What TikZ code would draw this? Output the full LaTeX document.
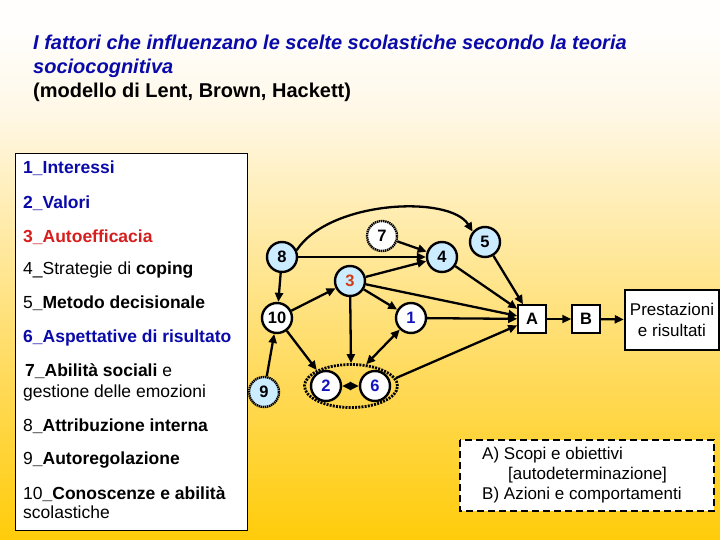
\documentclass[tikz,border=0pt]{standalone}
\usepackage{fontspec}
\setmainfont{Liberation Sans}
\usetikzlibrary{arrows.meta,shapes.geometric}
\definecolor{lblue}{RGB}{204,236,255}
\definecolor{tblue}{RGB}{10,10,170}
\definecolor{nblue}{RGB}{20,20,190}
\definecolor{tred}{RGB}{215,30,30}
\definecolor{nred}{RGB}{210,60,20}
\definecolor{bgA}{RGB}{255,204,10}
\definecolor{bgB}{RGB}{255,218,90}
\definecolor{bgC}{RGB}{255,236,175}
\definecolor{bgD}{RGB}{255,248,232}
\definecolor{bgE}{RGB}{255,254,252}
\pgfdeclareverticalshading{bgshade}{100bp}{color(0bp)=(bgA); color(25bp)=(bgA); color(40bp)=(bgB); color(55bp)=(bgC); color(65bp)=(bgD); color(72bp)=(bgE); color(100bp)=(bgE)}
\tikzset{
  circ/.style={circle, draw, line width=2.4pt, minimum size=30pt, inner sep=0pt, font=\fontsize{16.5}{18}\selectfont\bfseries},
  blu/.style={circ, fill=lblue},
  wht/.style={circ, fill=white},
  dotb/.style={dash pattern=on 1.4pt off 0.7pt},
  arr/.style={-{Triangle[length=9pt,width=8pt]}, line width=2.3pt},
  darr/.style={{Triangle[length=9pt,width=8pt]}-{Triangle[length=9pt,width=8pt]}, line width=2.3pt},
  sq/.style={draw, fill=white, line width=1.5pt, minimum size=28pt, inner sep=0pt, font=\fontsize{16.5}{18}\selectfont\bfseries},
  lt/.style={anchor=base west, inner sep=0pt, font=\fontsize{17.5}{20}\selectfont},
  gt/.style={anchor=base west, inner sep=0pt, font=\fontsize{17}{20}\selectfont}
}
\begin{document}
\begin{tikzpicture}[x=1pt,y=-1pt]
\useasboundingbox (0,0) rectangle (720,540);
\shade[shading=bgshade] (0,0) rectangle (720,540);

% title
\node[anchor=base west, inner sep=0pt, font=\fontsize{20}{24}\selectfont\bfseries\itshape, text=tblue] (ti1) at (33,50) {I fattori che influenzano le scelte scolastiche secondo la teoria};
\node[anchor=base west, inner sep=0pt, font=\fontsize{20}{24}\selectfont\bfseries\itshape, text=tblue] (ti2) at (33,74) {sociocognitiva};
\node[anchor=base west, inner sep=0pt, font=\fontsize{20}{24}\selectfont\bfseries] (ti3) at (33,98) {(modello di Lent, Brown, Hackett)};

% left list box
\draw[line width=0.8pt, fill=white] (15,153) rectangle (247,530);
\node[lt] (l1) at (23,174) {\bfseries\color{tblue}1\_Interessi};
\node[lt] (l2) at (23,208) {\bfseries\color{tblue}2\_Valori};
\node[lt] (l3) at (23,242) {\bfseries\color{tred}3\_Autoefficacia};
\node[lt] (l4) at (23,274) {4\_Strategie di \textbf{coping}};
\node[lt] (l5) at (23,308) {5\textbf{\_Metodo decisionale}};
\node[lt] (l6) at (23,342) {\bfseries\color{tblue}6\_Aspettative di risultato};
\node[lt] (l7) at (25,376) {\textbf{7\_Abilità sociali} e};
\node[lt] (l7b) at (23,397) {gestione delle emozioni};
\node[lt] (l8) at (23,431) {8\textbf{\_Attribuzione interna}};
\node[lt] (l9) at (23,464) {9\textbf{\_Autoregolazione}};
\node[lt] (l10) at (23,499) {10\textbf{\_Conoscenze e abilità}};
\node[lt] (l10b) at (23,518) {scolastiche};

% legend box
\draw[line width=2.5pt, dash pattern=on 7pt off 4pt, fill=white] (460,440) rectangle (714,511);
\node[gt] (la) at (482,459) {A) Scopi e obiettivi};
\node[gt] (lad) at (508,479) {[autodeterminazione]};
\node[gt] (lb) at (482,499) {B) Azioni e comportamenti};

% nodes
\node[ellipse, draw, line width=2.8pt, dash pattern=on 2pt off 1.2pt, minimum width=93pt, minimum height=43pt, inner sep=0pt] (ell) at (351,386) {};
\node[blu] (n8) at (282,257) {8};
\node[wht, dotb] (n7) at (382,236) {7};
\node[blu] (n4) at (442,257) {4};
\node[blu] (n5) at (485,242) {5};
\node[blu, text=nred] (n3) at (350,281) {3};
\node[wht] (n10) at (277,318) {10};
\node[wht, text=nblue] (n1) at (411,318) {1};
\node[blu, dotb] (n9) at (264,392) {9};
\node[wht, text=nblue] (n2) at (326,386) {2};
\node[wht, text=nblue] (n6) at (375,386) {6};
\node[sq] (A) at (532,319) {A};
\node[sq] (B) at (586,319) {B};
\node[draw, fill=white, line width=2.5pt, minimum width=94pt, minimum height=60pt, inner sep=0pt, align=center, font=\fontsize{17}{21}\selectfont] (P) at (672,320) {Prestazioni\\e risultati};

% connectors
\draw[arr] (n8.25) .. controls (330,200) and (450,195) .. (n5.140);
\draw[arr] (n8) -- (n4);
\draw[arr] (n7) -- (n4);
\draw[arr] (n3) -- (n4);
\draw[arr] (n8) -- (n10);
\draw[arr] (n10) -- (n3);
\draw[arr] (n9) -- (n10);
\draw[arr] (n3) -- (n1);
\draw[arr] (n3) -- (ell.north);
\draw[arr] (n10) -- (ell.155);
\draw[darr] (ell.55) -- (n1);
\draw[darr] (n2) -- (n6);
\draw[arr] (n3) -- (A);
\draw[arr] (n4) -- (A);
\draw[arr] (n5) -- (A);
\draw[arr] (n1) -- (A);
\draw[arr] (ell.10) -- (A);
\draw[arr] (A) -- (B);
\draw[arr] (B) -- (P);
\end{tikzpicture}
\end{document}
